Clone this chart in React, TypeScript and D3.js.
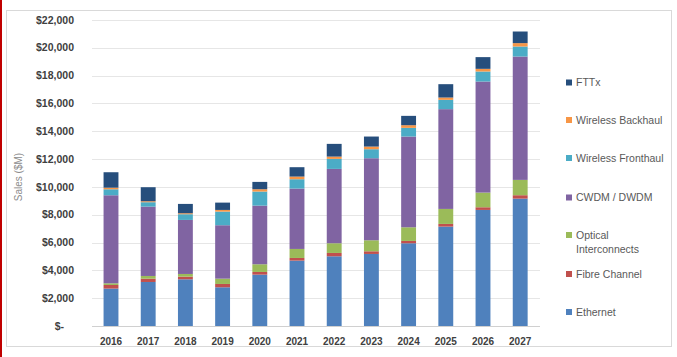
import React from "react";
import * as d3 from "d3";

const years = ["2016","2017","2018","2019","2020","2021","2022","2023","2024","2025","2026","2027"];
const ethernet = [2690, 3165, 3357, 2784, 3693, 4700, 5012, 5180, 5948, 7146, 8345, 9158];
const fibreChannel = [260, 238, 192, 238, 192, 192, 240, 192, 167, 192, 192, 245];
const opticalInterconnects = [120, 194, 192, 381, 554, 648, 698, 791, 983, 1079, 1055, 1101];
const cwdm = [6330, 4986, 3885, 3842, 4216, 4340, 5345, 5899, 6523, 7173, 7984, 8870];
const wirelessFronthaul = [430, 316, 410, 980, 1011, 672, 719, 648, 624, 669, 721, 720];
const wirelessBackhaul = [115, 72, 72, 120, 168, 191, 166, 190, 191, 168, 192, 244];
const fttx = [1110, 1007, 669, 526, 526, 674, 914, 721, 672, 959, 842, 835];
const yTicks = [0, 2000, 4000, 6000, 8000, 10000, 12000, 14000, 16000, 18000, 20000, 22000];

const seriesNames = ["Ethernet", "Fibre Channel", "Optical Interconnects", "CWDM / DWDM", "Wireless Fronthaul", "Wireless Backhaul", "FTTx"];
const seriesValues = [ethernet, fibreChannel, opticalInterconnects, cwdm, wirelessFronthaul, wirelessBackhaul, fttx];
const colors = ["#4F81BD", "#C0504D", "#9BBB59", "#8064A2", "#4BACC6", "#F79646", "#264E7C"];

const W = 677, H = 357;

export default function App() {
  const x = d3.scaleBand<string>().domain(years).range([92.4, 538.8]).paddingInner(0.6).paddingOuter(0.3);
  const y = d3.scaleLinear().domain([0, 22000]).range([326, 20]);

  const rows = years.map((yr, i) => {
    const r: any = { year: yr };
    seriesNames.forEach((n, k) => (r[n] = seriesValues[k][i]));
    return r;
  });
  const stacked = d3.stack<any>().keys(seriesNames)(rows);

  const fmt = (v: number) => (v === 0 ? "$-" : "$" + d3.format(",")(v));

  const legendItems = [
    { k: 6, lines: ["FTTx"], y: 82.5 },
    { k: 5, lines: ["Wireless Backhaul"], y: 120 },
    { k: 4, lines: ["Wireless Fronthaul"], y: 158 },
    { k: 3, lines: ["CWDM / DWDM"], y: 197.5 },
    { k: 2, lines: ["Optical", "Interconnects"], y: 235 },
    { k: 1, lines: ["Fibre Channel"], y: 274 },
    { k: 0, lines: ["Ethernet"], y: 312 },
  ];

  return (
    <svg width={W} height={H} style={{ position: "absolute", left: 0, top: 0, background: "#fff" }}
      fontFamily="'Liberation Sans', Arial, sans-serif">
      <rect x={0} y={0} width={W} height={H} fill="#fff" />
      <rect x={6.5} y={10.5} width={665} height={336} fill="none" stroke="#D9D9D9" strokeWidth={1} />
      <rect x={0} y={0} width={2} height={H} fill="#C00000" />
      {yTicks.map((t) => (
        <g key={t}>
          <line x1={92} x2={540} y1={Math.round(y(t)) + 0.5} y2={Math.round(y(t)) + 0.5}
            stroke={t === 0 ? "#D0D0D0" : "#E6E6E6"} strokeWidth={1} />
          <text x={74} dx={t === 0 ? -10 : 0} y={y(t)} dy="0.35em" textAnchor="end" fontSize={10.5}
            fontWeight="bold" fill="#404040">{fmt(t)}</text>
        </g>
      ))}
      <text transform={`translate(22,${(y(0) + y(22000)) / 2 + 4}) rotate(-90)`} textAnchor="middle"
        fontSize={10} fill="#8C8C8C">Sales ($M)</text>
      {stacked.map((s, k) => (
        <g key={seriesNames[k]} fill={colors[k]}>
          {s.map((d, i) => (
            <rect key={i} x={x(years[i])!} width={x.bandwidth()} y={y(d[1])} height={y(d[0]) - y(d[1])} />
          ))}
        </g>
      ))}
      {years.map((yr) => (
        <text key={yr} x={x(yr)! + x.bandwidth() / 2} y={341} dy="0.35em" textAnchor="middle" fontSize={10}
          fontWeight="bold" fill="#404040">{yr}</text>
      ))}
      {legendItems.map((it) => (
        <g key={it.k}>
          <rect x={566} y={it.y - 3} width={6} height={6} fill={colors[it.k]} />
          {it.lines.map((ln, j) => (
            <text key={j} x={576} y={it.y + j * 14.5} dy="0.35em" fontSize={10.5} fill="#595959">{ln}</text>
          ))}
        </g>
      ))}
    </svg>
  );
}
